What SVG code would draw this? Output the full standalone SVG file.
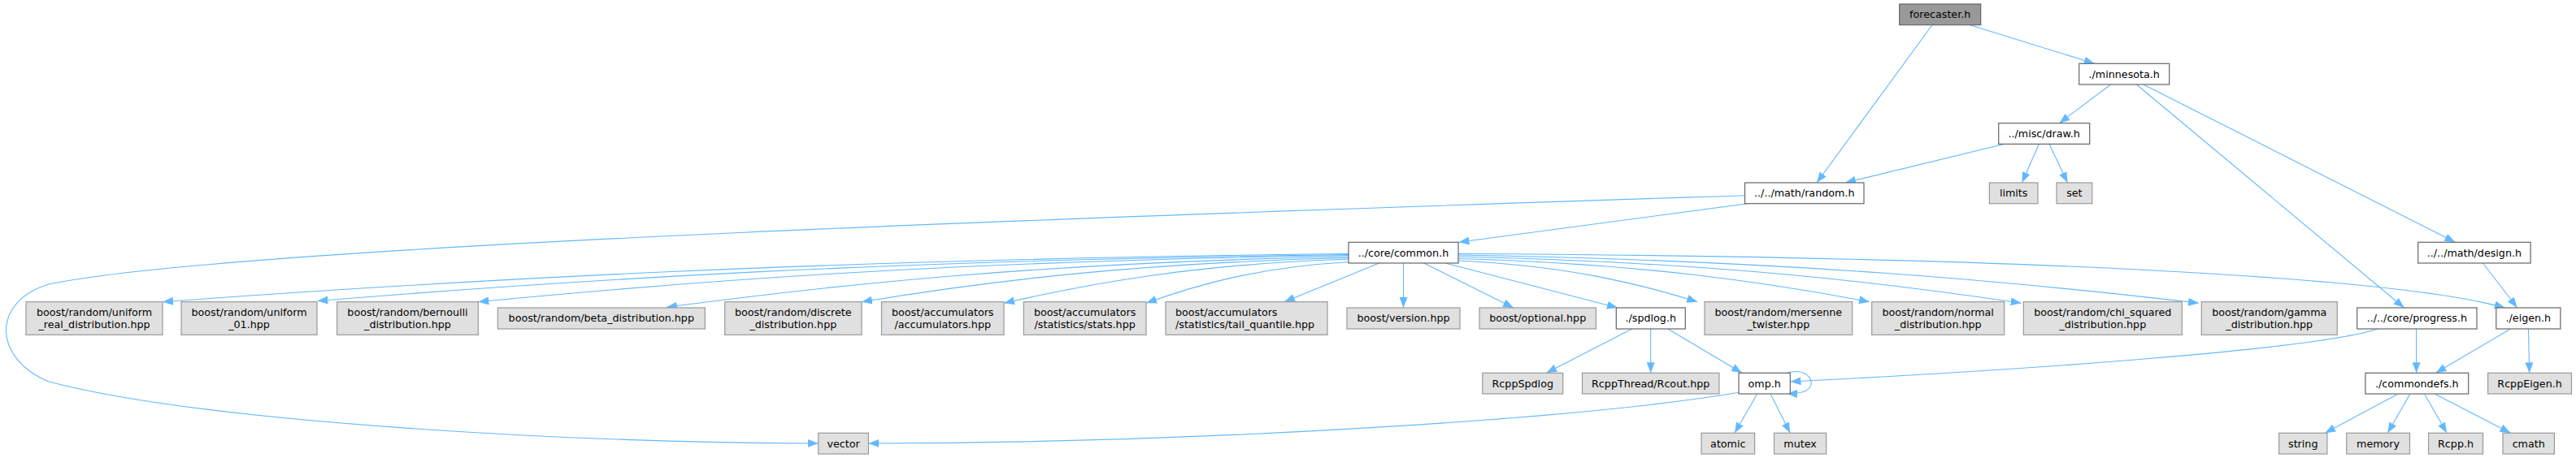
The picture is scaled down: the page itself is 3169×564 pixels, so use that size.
<svg xmlns="http://www.w3.org/2000/svg" width="3169" height="564" viewBox="0 0 3169 564">
<defs>
<marker id="arr" viewBox="0 0 13 10" refX="13" refY="5" markerWidth="13" markerHeight="10" markerUnits="userSpaceOnUse" orient="auto">
<path d="M0,0 L13,5 L0,10 Z" fill="#63b8ff"/>
</marker>
<style>
.e{fill:none;stroke:#63b8ff;stroke-width:1.1;marker-end:url(#arr)}
.w rect{fill:#ffffff;stroke:#666666;stroke-width:1.2}
.g rect{fill:#e0e0e0;stroke:#999999;stroke-width:1.2}
.r rect{fill:#999999;stroke:#666666;stroke-width:1.2}
text{font-family:"DejaVu Sans","Liberation Sans",sans-serif;font-size:12.7px;fill:#000000;text-anchor:middle}
text.l{text-anchor:start}
</style>
</defs>
<rect x="0" y="0" width="3169" height="564" fill="#ffffff"/>
<g id="connectors">
<path class="e" d="M2377,30.7 L2235,225"/>
<path class="e" d="M2423.3,30.7 L2576.7,78.3"/>
<path class="e" d="M2596.7,104 L2533.3,151.7"/>
<path class="e" d="M2628.3,104 L2957.6,379"/>
<path class="e" d="M2636.7,104 L3020.4,298.3"/>
<path class="e" d="M2466,177.3 L2270,225"/>
<path class="e" d="M2508.4,177.3 L2487.4,225"/>
<path class="e" d="M2521,177.3 L2543.5,225"/>
<path class="e" d="M2150,250.7 L1794.5,298.3"/>
<path class="e" d="M2146.5,240.7 C1500,262 300,300 60,350 C-12,372 -8,442 60,470 C250,520 700,545 1006.7,546"/>
<path class="e" d="M1659,312.5 C1002.4,319.6 564.8,345.1 200,371.7"/>
<path class="e" d="M1659,313.5 C1088.1,320.3 707.6,344.8 390.4,370.5"/>
<path class="e" d="M1659,314.5 C1177.2,321.4 856,346 588.3,371.7"/>
<path class="e" d="M1659,316 C1281.5,323.5 1029.8,350.3 820,378.3"/>
<path class="e" d="M1659,317.5 C1389.5,324 1209.8,347.3 1060,371.7"/>
<path class="e" d="M1659,319 C1468.2,325.5 1341,348.9 1235,373.3"/>
<path class="e" d="M1662,322.5 C1548.6,328.6 1473,350.4 1410,373.3"/>
<path class="e" d="M1696.7,324 L1580,371.7"/>
<path class="e" d="M1726.5,324 L1726.5,379"/>
<path class="e" d="M1751.7,324 L1862,379"/>
<path class="e" d="M1778,324 L1990,379"/>
<path class="e" d="M1794,321 C1926.4,327.1 2014.7,348.9 2088.3,371.7"/>
<path class="e" d="M1794,318.5 C2021.7,324.9 2173.5,347.8 2300,371.7"/>
<path class="e" d="M1794,316 C2105.7,322.9 2313.5,347.5 2486.7,373.3"/>
<path class="e" d="M1794,314 C2204,321.1 2477.3,346.6 2705,373.3"/>
<path class="e" d="M1794,312.5 C2500,316 2950,342 3081.7,379"/>
<path class="e" d="M2007.6,405 L1902.3,459.3"/>
<path class="e" d="M2030.7,405 L2030.7,459.3"/>
<path class="e" d="M2051.8,405 L2143,459.3"/>
<path class="e" d="M2139.4,483.3 C1950,515 1500,545 1068.4,546"/>
<path class="e" d="M2925,405 C2850,430 2500,455 2202.5,470"/>
<path class="e" d="M2197,459.5 C2222,452 2232,468 2227,476 C2223,483 2212,485 2198,484.5"/>
<path class="e" d="M2161.4,485.7 L2134,533.3"/>
<path class="e" d="M2178.4,485.7 L2202.3,533.3"/>
<path class="e" d="M2972.6,405 L2972.6,459.3"/>
<path class="e" d="M3088.5,405 L2996.5,459.3"/>
<path class="e" d="M3110.4,405 L3111.7,459.3"/>
<path class="e" d="M3054.5,324 L3096.7,379"/>
<path class="e" d="M2948.8,485.7 L2860.2,533.3"/>
<path class="e" d="M2964.5,485.7 L2937.2,533.3"/>
<path class="e" d="M2982.9,485.7 L3010.1,533.3"/>
<path class="e" d="M2996.5,485.7 L3088.5,533.3"/>
</g>
<g id="n_forecaster" class="r"><rect x="2336.7" y="5" width="100" height="25.7"/><text x="2386.7" y="22.2">forecaster.h</text></g>
<g id="n_minnesota" class="w"><rect x="2557.7" y="78.3" width="111" height="25.7"/><text x="2613.2" y="95.5">./minnesota.h</text></g>
<g id="n_draw" class="w"><rect x="2458.7" y="151.7" width="112" height="25.7"/><text x="2514.7" y="168.9">../misc/draw.h</text></g>
<g id="n_random" class="w"><rect x="2146.5" y="225" width="146.5" height="25.7"/><text x="2219.75" y="242.2">../../math/random.h</text></g>
<g id="n_limits" class="g"><rect x="2447.4" y="225" width="59.6" height="25.7"/><text x="2477.2" y="242.2">limits</text></g>
<g id="n_set" class="g"><rect x="2530" y="225" width="43.7" height="25.7"/><text x="2551.85" y="242.2">set</text></g>
<g id="n_common" class="w"><rect x="1659" y="298.3" width="135" height="25.7"/><text x="1726.5" y="315.5">../core/common.h</text></g>
<g id="n_design" class="w"><rect x="2974.7" y="298.3" width="138.4" height="25.7"/><text x="3043.9" y="315.5">../../math/design.h</text></g>
<g id="n_uniform_real" class="g"><rect x="32" y="371.7" width="168" height="40.6"/><text x="116" y="388.5">boost/random/uniform</text><text x="116" y="403.5">_real_distribution.hpp</text></g>
<g id="n_uniform_01" class="g"><rect x="223" y="371.7" width="167" height="40.6"/><text x="306.5" y="388.5">boost/random/uniform</text><text x="306.5" y="403.5">_01.hpp</text></g>
<g id="n_bernoulli" class="g"><rect x="414.6" y="371.7" width="173.7" height="40.6"/><text x="501.45" y="388.5">boost/random/bernoulli</text><text x="501.45" y="403.5">_distribution.hpp</text></g>
<g id="n_beta" class="g"><rect x="612.3" y="379" width="255" height="26"/><text x="739.8" y="396.3">boost/random/beta_distribution.hpp</text></g>
<g id="n_discrete" class="g"><rect x="891.7" y="371.7" width="168.3" height="40.6"/><text x="975.85" y="388.5">boost/random/discrete</text><text x="975.85" y="403.5">_distribution.hpp</text></g>
<g id="n_accumulators" class="g"><rect x="1084.5" y="371.7" width="150.5" height="40.6"/><text x="1159.75" y="388.5">boost/accumulators</text><text x="1159.75" y="403.5">/accumulators.hpp</text></g>
<g id="n_stats" class="g"><rect x="1259.3" y="371.7" width="150.7" height="40.6"/><text x="1334.65" y="388.5">boost/accumulators</text><text x="1334.65" y="403.5">/statistics/stats.hpp</text></g>
<g id="n_tail_quantile" class="g"><rect x="1434" y="371.7" width="199" height="40.6"/><text class="l" x="1446" y="388.5">boost/accumulators</text><text class="l" x="1446" y="403.5">/statistics/tail_quantile.hpp</text></g>
<g id="n_version" class="g"><rect x="1657" y="379" width="139" height="26"/><text x="1726.5" y="396.3">boost/version.hpp</text></g>
<g id="n_optional" class="g"><rect x="1820" y="379" width="143.4" height="26"/><text x="1891.7" y="396.3">boost/optional.hpp</text></g>
<g id="n_spdlog" class="w"><rect x="1988.3" y="379" width="85" height="26"/><text x="2030.8" y="396.3">./spdlog.h</text></g>
<g id="n_mersenne" class="g"><rect x="2097" y="371.7" width="181.7" height="40.6"/><text x="2187.85" y="388.5">boost/random/mersenne</text><text x="2187.85" y="403.5">_twister.hpp</text></g>
<g id="n_normal" class="g"><rect x="2302.7" y="371.7" width="163" height="40.6"/><text x="2384.2" y="388.5">boost/random/normal</text><text x="2384.2" y="403.5">_distribution.hpp</text></g>
<g id="n_chi_squared" class="g"><rect x="2489.3" y="371.7" width="195" height="40.6"/><text x="2586.8" y="388.5">boost/random/chi_squared</text><text x="2586.8" y="403.5">_distribution.hpp</text></g>
<g id="n_gamma" class="g"><rect x="2708.3" y="371.7" width="166.9" height="40.6"/><text x="2791.75" y="388.5">boost/random/gamma</text><text x="2791.75" y="403.5">_distribution.hpp</text></g>
<g id="n_progress" class="w"><rect x="2899.7" y="379" width="147.3" height="26"/><text x="2973.35" y="396.3">../../core/progress.h</text></g>
<g id="n_eigen" class="w"><rect x="3070.8" y="379" width="79.1" height="26"/><text x="3110.35" y="396.3">./eigen.h</text></g>
<g id="n_rcppspdlog" class="g"><rect x="1823.8" y="459.3" width="98.9" height="25.7"/><text x="1873.25" y="476.5">RcppSpdlog</text></g>
<g id="n_rcout" class="g"><rect x="1946.5" y="459.3" width="168.4" height="25.7"/><text x="2030.7" y="476.5">RcppThread/Rcout.hpp</text></g>
<g id="n_omp" class="w"><rect x="2139" y="459.3" width="63.3" height="25.7"/><text x="2170.65" y="476.5">omp.h</text></g>
<g id="n_commondefs" class="w"><rect x="2909.9" y="459.3" width="126.8" height="25.7"/><text x="2973.3" y="476.5">./commondefs.h</text></g>
<g id="n_rcppeigen" class="g"><rect x="3060.6" y="459.3" width="102.9" height="25.7"/><text x="3112.05" y="476.5">RcppEigen.h</text></g>
<g id="n_vector" class="g"><rect x="1006.7" y="533.3" width="61.7" height="25.7"/><text x="1037.55" y="550.5">vector</text></g>
<g id="n_atomic" class="g"><rect x="2093" y="533.3" width="65.6" height="25.7"/><text x="2125.8" y="550.5">atomic</text></g>
<g id="n_mutex" class="g"><rect x="2182.5" y="533.3" width="64.1" height="25.7"/><text x="2214.55" y="550.5">mutex</text></g>
<g id="n_string" class="g"><rect x="2803.6" y="533.3" width="59.3" height="25.7"/><text x="2833.25" y="550.5">string</text></g>
<g id="n_memory" class="g"><rect x="2886.7" y="533.3" width="77.8" height="25.7"/><text x="2925.6" y="550.5">memory</text></g>
<g id="n_rcpp" class="g"><rect x="2987.6" y="533.3" width="66.9" height="25.7"/><text x="3021.05" y="550.5">Rcpp.h</text></g>
<g id="n_cmath" class="g"><rect x="3079" y="533.3" width="63.4" height="25.7"/><text x="3110.7" y="550.5">cmath</text></g>
</svg>
